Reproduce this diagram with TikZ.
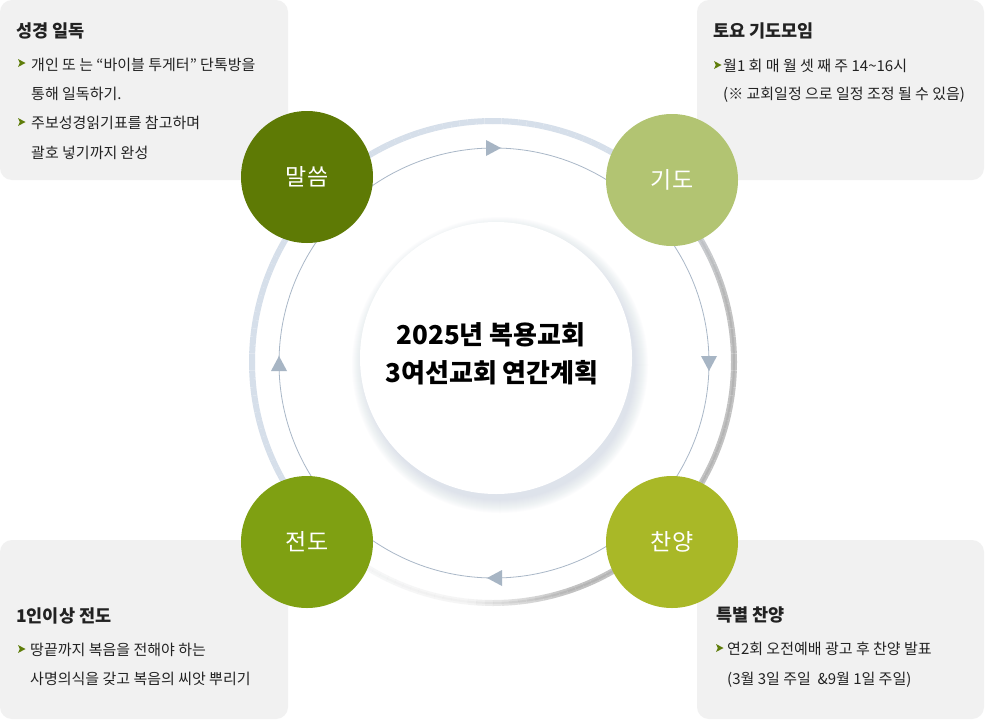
\documentclass[tikz,border=0pt]{standalone}
\usepackage{fontspec}
\setmainfont{Noto Sans CJK KR}
\definecolor{boxgray}{HTML}{F1F1F1}
\definecolor{cmal}{HTML}{5E7A05}
\definecolor{cgi}{HTML}{B2C472}
\definecolor{cchan}{HTML}{A9B827}
\definecolor{cjeon}{HTML}{7FA012}
\definecolor{ringline}{HTML}{A9B7C7}
\definecolor{arrowc}{HTML}{A7B5C4}
\definecolor{ringblue}{HTML}{D6DFEA}
\definecolor{ringgray}{HTML}{C2C2C2}
\definecolor{bulletc}{HTML}{5F7D0A}
\definecolor{txt}{HTML}{222222}
\definecolor{shadowc}{HTML}{C3CEDC}
\newcommand\mybullet[2]{\fill[bulletc] (#1,#2-4) -- ++(7.5,4) -- ++(-7.5,4) -- ++(1.8,-4) -- cycle;}
\begin{document}
\begin{tikzpicture}[x=1pt,y=-1pt,
  infobox/.style={fill=boxgray, rounded corners=12pt},
  circnode/.style={circle, minimum size=132pt, inner sep=0pt, text=white, font=\fontsize{23}{23}\selectfont},
  boxtitle/.style={anchor=base west, inner sep=0pt, text=txt, font=\bfseries\fontsize{17.5}{20}\selectfont},
  boxtext/.style={anchor=base west, inner sep=0pt, text=txt, font=\fontsize{15}{17}\selectfont},
  centertext/.style={anchor=base, inner sep=0pt, text=black, font=\bfseries\fontsize{26}{30}\selectfont},
  arrowtri/.style={fill=arrowc}
]
\useasboundingbox (0,0) rectangle (985,720);
\fill[white] (0,0) rectangle (985,720);

% info boxes
\fill[infobox] (0,0) rectangle (288,180);
\fill[infobox] (697,0) rectangle (984,180);
\fill[infobox] (0,540) rectangle (288,719);
\fill[infobox] (697,540) rectangle (984,719);

% outer shaded ring
\coordinate (rc) at (493,362);
\foreach \a in {0,2,...,358}{
  \pgfmathsetmacro{\ps}{mod(\a-150+360,360)}
  \pgfmathtruncatemacro{\pb}{\ps<150 ? 100 : (\ps<195 ? 100-(\ps-150)/45*100 : (\ps<310 ? 0 : (\ps-310)/50*100))}
  \pgfmathsetmacro{\op}{\ps<280 ? 1 : (\ps<305 ? 1-(\ps-280)/25*0.85 : (\ps<335 ? 0.15 : 0.15+(\ps-335)/25*0.85))}
  \pgfmathsetmacro{\opd}{\op*(100-\pb)/100*0.35}
  \colorlet{rcol}{ringblue!\pb!ringgray}
  \draw[rcol, line width=6pt, opacity=\op] (rc) ++(\a:241) arc[start angle=\a, end angle=\a+2, radius=241];
  \draw[rcol!80!black, line width=2pt, opacity=\opd] (rc) ++(\a:241) arc[start angle=\a, end angle=\a+2, radius=241];
}

% thin ring with arrows
\coordinate (tc) at (494,363);
\draw[ringline, line width=0.8pt] (tc) circle[radius=215];
\fill[arrowtri] (501,148) -- (486,140) -- (486,156) -- cycle;
\fill[arrowtri] (709,371) -- (701,356) -- (717,356) -- cycle;
\fill[arrowtri] (487,578) -- (502,570) -- (502,586) -- cycle;
\fill[arrowtri] (279,356) -- (271,371) -- (287,371) -- cycle;

% inner circle with soft shadow
\foreach \i in {14,13,...,1}{
  \fill[shadowc, opacity=0.045] (500,365) circle[radius=134+\i];
}
\fill[white] (496,358) circle[radius=136];
\node[centertext] (t1) at (491,344) {2025년 복용교회};
\node[centertext] (t2) at (492,382) {3여선교회 연간계획};

% circles
\node[circnode, fill=cmal] (mal) at (307,177) {말씀};
\node[circnode, fill=cgi] (gido) at (672,180) {기도};
\node[circnode, fill=cchan] (chan) at (672,542) {찬양};
\node[circnode, fill=cjeon] (jeon) at (307,542) {전도};

% top-left text
\node[boxtitle] (tlh) at (16,37) {성경 일독};
\mybullet{18}{63}
\node[boxtext] (tl1) at (31,70) {개인 또 는 “바이블 투게터” 단톡방을};
\node[boxtext] (tl2) at (31,99) {통해 일독하기.};
\mybullet{18}{122}
\node[boxtext] (tl3) at (31,128) {주보성경읽기표를 참고하며};
\node[boxtext] (tl4) at (31,158) {괄호 넣기까지 완성};

% top-right text
\node[boxtitle] (trh) at (713,37) {토요 기도모임};
\mybullet{714}{65}
\node[boxtext] (tr1) at (723,71) {월1 회 매 월 셋 째 주 14\textasciitilde16시};
\node[boxtext] (tr2) at (723,99) {(※ 교회일정 으로 일정 조정 될 수 있음)};

% bottom-left text
\node[boxtitle] (blh) at (16,622) {1인이상 전도};
\mybullet{18}{649}
\node[boxtext] (bl1) at (30,655) {땅끝까지 복음을 전해야 하는};
\node[boxtext] (bl2) at (30,684) {사명의식을 갖고 복음의 씨앗 뿌리기};

% bottom-right text
\node[boxtitle] (brh) at (716,621) {특별 찬양};
\mybullet{716}{648}
\node[boxtext] (br1) at (727,654) {연2회 오전예배 광고 후 찬양 발표};
\node[boxtext] (br2) at (727,684) {(3월 3일 주일\ \ \&9월 1일 주일)};
\end{tikzpicture}
\end{document}
